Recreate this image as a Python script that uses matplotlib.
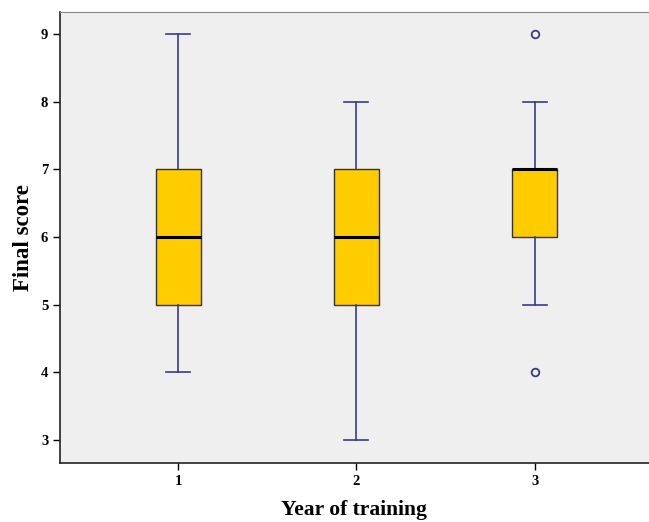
import matplotlib
matplotlib.use("Agg")
import matplotlib.pyplot as plt

# values
years = [1, 2, 3]
whisker_low = [4, 3, 5]
q1 = [5, 5, 6]
median = [6, 6, 7]
q3 = [7, 7, 7]
whisker_high = [9, 8, 8]
outliers = [[], [], [4, 9]]

stats = []
for i, year in enumerate(years):
    stats.append({
        "label": str(year),
        "whislo": whisker_low[i],
        "q1": q1[i],
        "med": median[i],
        "q3": q3[i],
        "whishi": whisker_high[i],
        "fliers": outliers[i],
    })

plt.rcParams["font.family"] = ["Liberation Serif", "DejaVu Serif"]
plt.rcParams["font.weight"] = "bold"

navy = "#3a3a8c"
fig = plt.figure(figsize=(6.49, 5.22), dpi=100)
ax = fig.add_axes([0.0925, 0.113, 0.907, 0.864])
ax.set_facecolor("#efefef")

ax.bxp(
    stats,
    positions=years,
    widths=0.253,
    patch_artist=True,
    boxprops=dict(facecolor="#ffcc00", edgecolor="#333333", linewidth=1.0),
    medianprops=dict(color="black", linewidth=2.2),
    whiskerprops=dict(color=navy, linewidth=1.2),
    capprops=dict(color=navy, linewidth=1.2),
    capwidths=0.135,
    flierprops=dict(marker="o", markerfacecolor="none", markeredgecolor=navy,
                    markeredgewidth=1.3, markersize=5.5),
)

ax.set_xlim(0.337, 3.64)
ax.set_ylim(2.66, 9.325)
ax.set_yticks([3, 4, 5, 6, 7, 8, 9])
ax.set_xticks(years)
ax.set_xticklabels([str(y) for y in years])
ax.tick_params(axis="both", direction="out", length=5, width=1, labelsize=10.5)
for lbl in ax.get_xticklabels() + ax.get_yticklabels():
    lbl.set_fontweight("bold")

ax.spines["top"].set_color("#888888")
ax.spines["right"].set_visible(False)
ax.spines["left"].set_color("#222222")
ax.spines["bottom"].set_color("#222222")
ax.spines["left"].set_linewidth(1.2)
ax.spines["bottom"].set_linewidth(1.2)

ax.set_xlabel("Year of training", fontsize=15.5, fontweight="bold", labelpad=9)
ax.set_ylabel("Final score", fontsize=16.5, fontweight="bold", labelpad=5)

fig.savefig("out.png", dpi=100)
